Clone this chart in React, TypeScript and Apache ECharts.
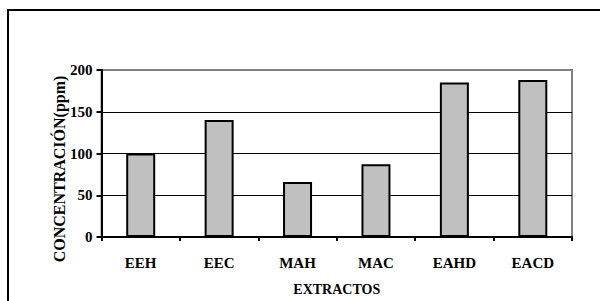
import React, { useEffect, useRef } from "react";
import * as echarts from "echarts";

const categories = ["EEH", "EEC", "MAH", "MAC", "EAHD", "EACD"];
const values = [100, 140, 66, 87, 185, 188];
const yTitle = "CONCENTRACIÓN(ppm)";
const xTitle = "EXTRACTOS";

const FONT = "Liberation Serif";

export default function App() {
  const ref = useRef<HTMLDivElement>(null);
  useEffect(() => {
    if (!ref.current) return;
    const chart = echarts.init(ref.current, undefined, { renderer: "svg" });
    chart.setOption({
      animation: false,
      backgroundColor: "#fff",
      textStyle: { fontFamily: FONT },
      grid: {
        left: 101.5,
        right: 28,
        top: 70,
        bottom: 61,
        show: true,
        borderColor: "#808080",
        borderWidth: 2,
        backgroundColor: "transparent",
      },
      xAxis: {
        type: "category",
        data: categories,
        boundaryGap: true,
        name: xTitle,
        nameLocation: "middle",
        nameGap: 45,
        nameTextStyle: { fontFamily: FONT, fontWeight: "bold", fontSize: 14, color: "#000" },
        axisLine: { show: true, lineStyle: { color: "#000", width: 2 } },
        axisTick: { show: true, length: 4, lineStyle: { color: "#000", width: 2 } },
        axisLabel: { fontFamily: FONT, fontWeight: "bold", fontSize: 15, color: "#000", margin: 18 },
        splitLine: { show: false },
      },
      yAxis: {
        type: "value",
        min: 0,
        max: 200,
        interval: 50,
        axisLine: { show: true, lineStyle: { color: "#000", width: 2 } },
        axisTick: { show: true, length: 5, lineStyle: { color: "#000", width: 2 } },
        axisLabel: { fontFamily: FONT, fontWeight: "bold", fontSize: 15, color: "#000", margin: 9 },
        splitLine: {
          show: true,
          lineStyle: { color: ["#000", "#000", "#000", "#000", "#808080"], width: 1 },
        },
      },
      series: [
        {
          type: "bar",
          data: values,
          barWidth: 29,
          itemStyle: { color: "#c0c0c0", borderColor: "#000", borderWidth: 2 },
        },
      ],
      graphic: [
        {
          type: "line",
          shape: { x1: 8, y1: 10, x2: 600, y2: 10 },
          style: { stroke: "#000", lineWidth: 2 },
        },
        {
          type: "line",
          shape: { x1: 8, y1: 9, x2: 8, y2: 301 },
          style: { stroke: "#000", lineWidth: 2 },
        },
        {
          type: "text",
          x: 59,
          y: 169,
          rotation: Math.PI / 2,
          style: {
            text: yTitle,
            fontFamily: FONT,
            fontWeight: "bold",
            fontSize: 16,
            fill: "#000",
            align: "center",
            verticalAlign: "middle",
          },
        },
      ],
    });
    return () => chart.dispose();
  }, []);
  return (
    <div
      ref={ref}
      style={{ position: "absolute", left: 0, top: 0, width: 600, height: 301 }}
    />
  );
}
